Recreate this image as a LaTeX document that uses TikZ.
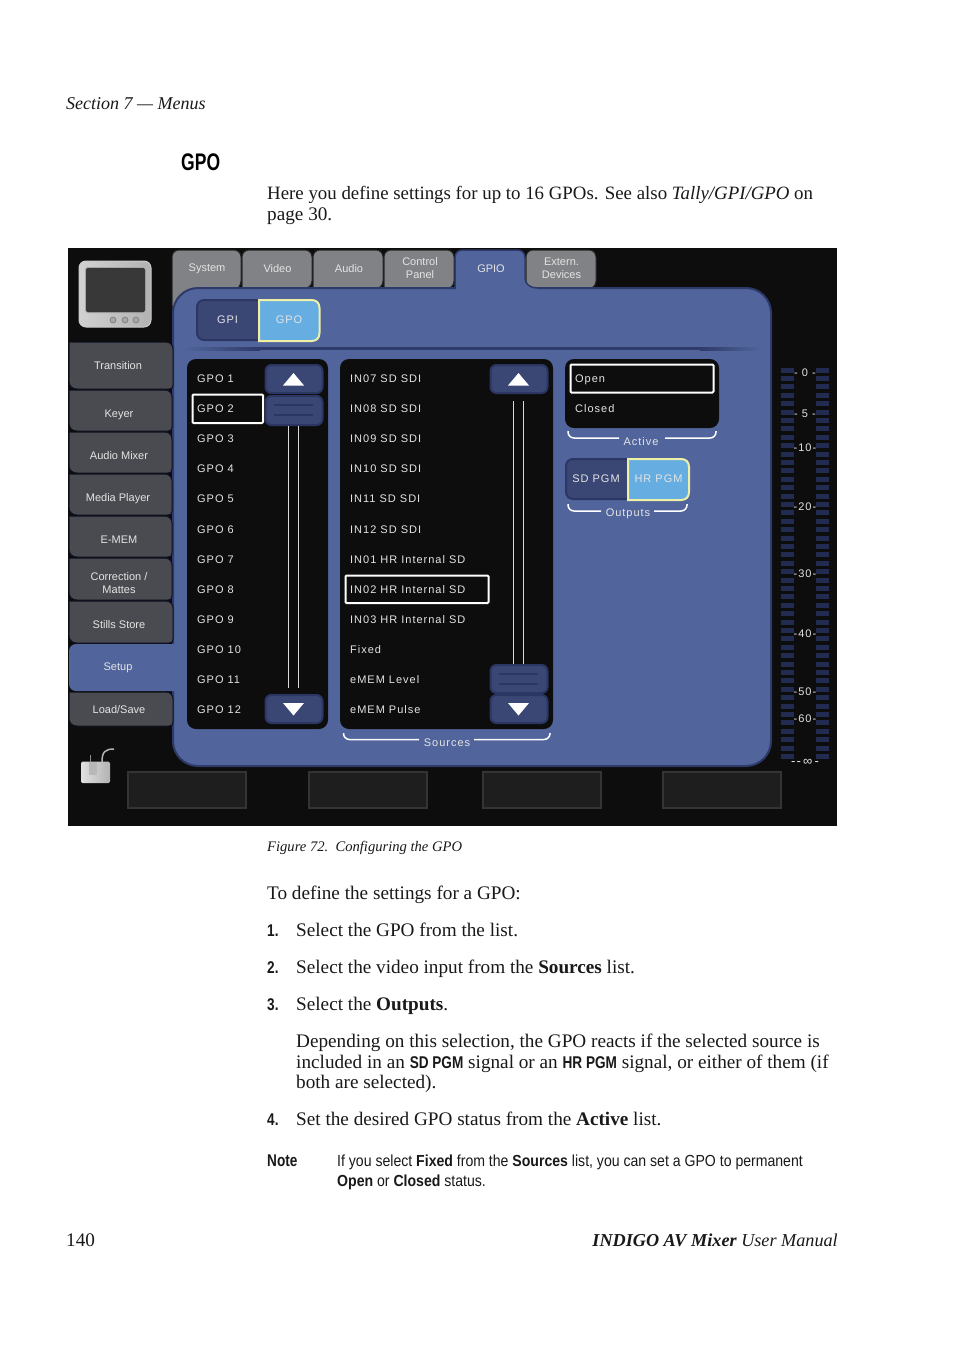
\documentclass[tikz,border=0pt]{standalone}
\usepackage{fontspec}
\setmainfont{Liberation Serif}
\setsansfont{Liberation Sans}
\newfontfamily\uilist{Liberation Sans}[LetterSpace=9]
\newfontfamily\uitab{Liberation Sans}
\newfontfamily\headf{Liberation Sans}[FakeStretch=0.88]
\newfontfamily\condf{Liberation Sans}[FakeStretch=0.8]
\newfontfamily\gpof{Liberation Sans}[FakeStretch=0.73]
\usetikzlibrary{calc}
\definecolor{panelblue}{HTML}{51659C}
\definecolor{paneledge}{HTML}{2E3A69}
\definecolor{btnblue}{HTML}{3A4775}
\definecolor{btnedge}{HTML}{2B3662}
\definecolor{lightblue}{HTML}{66ADE1}
\definecolor{hiliteedge}{HTML}{EFEFA6}
\definecolor{uiblack}{HTML}{0D0D0D}
\definecolor{tabgrey}{HTML}{808285}
\definecolor{sidegrey}{HTML}{4A4B50}
\definecolor{uitext}{HTML}{E4E4E4}
\definecolor{seg}{HTML}{222C52}
\definecolor{softkey}{HTML}{1E1E1E}
\definecolor{softedge}{HTML}{343434}
\tikzset{
  body/.style={anchor=base west,inner sep=0pt,font=\fontsize{19.2}{21}\selectfont,text=black!90},
  lbl/.style={anchor=base west,inner sep=0pt,font=\fontsize{17}{19}\condf\bfseries,text=black!90},
  note/.style={anchor=base west,inner sep=0pt,font=\fontsize{16}{18}\headf,text=black!90},
  rowtext/.style={anchor=base west,inner sep=0pt,font=\fontsize{11}{12}\uilist,text=uitext},
  tabtext/.style={align=center,inner sep=0pt,font=\fontsize{11}{13}\uitab,text=uitext},
  swtext/.style={inner sep=0pt,font=\fontsize{11}{12}\uilist,text=uitext},
  capt/.style={inner sep=0pt,font=\fontsize{11}{12}\uilist,text=uitext},
  metertext/.style={inner sep=0pt,font=\fontsize{11}{12}\uilist,text=uitext},
  tabgreyst/.style={fill=tabgrey,draw=black!85,line width=1pt,rounded corners=7pt},
  sidetabst/.style={fill=sidegrey,draw=black!70!paneledge,line width=1pt},
  listbox/.style={fill=uiblack,rounded corners=9pt},
  ubtn/.style={fill=btnblue,draw=btnedge,line width=2pt,rounded corners=6pt},
  selbox/.style={draw=white,fill=uiblack,line width=2pt,rounded corners=1pt},
  brk/.style={draw=white,line width=1.5pt,rounded corners=6pt},
  softk/.style={fill=softkey,draw=softedge,line width=2pt},
  trk/.style={draw=white!85!black,line width=1pt},
  grip/.style={draw=btnedge,line width=1.5pt},
  swoff/.style={fill=btnblue,draw=btnedge,line width=2pt,rounded corners=7pt},
  swon/.style={fill=lightblue,draw=hiliteedge,line width=2pt}
}
% side tab: #2 top, #3 bottom, #4 right edge
\newcommand{\sidetabshape}[4][sidetabst]{%
  \path[#1] (69,#2) -- ({#4-7},#2) .. controls ({#4-3},#2) and (#4,{#2+3}) .. (#4,{#2+7})
   -- (#4,{#3-4}) .. controls (#4,{#3-1}) and ({#4-1},#3) .. ({#4-4},#3)
   -- (77,#3) .. controls (72,#3) and (69,{#3-3}) .. (69,{#3-8}) -- cycle;}
% selected switch half: #1 left, #2 right, #3 top, #4 bottom
\newcommand{\swonshape}[4]{%
  \path[swon] (#1,#3) -- ({#2-8},#3) .. controls ({#2-3},#3) and (#2,{#3+3}) .. (#2,{#3+8})
   -- (#2,{#4-8}) .. controls (#2,{#4-3}) and ({#2-3},#4) .. ({#2-8},#4) -- (#1,#4) -- cycle;}
\begin{document}
\begin{tikzpicture}[x=1pt,y=-1pt]
\useasboundingbox (0,0) rectangle (954,1350);
\fill[white] (0,0) rectangle (954,1350);
% page text
\node[body,font=\fontsize{18}{21}\selectfont\itshape] (sec) at (66,109) {Section 7 — Menus};
\node[anchor=base west,inner sep=0pt,font=\fontsize{24}{26}\gpof\bfseries] (head) at (181,170) {GPO};
\node[body,font=\fontsize{18.85}{21}\selectfont] (p1) at (267,199) {Here you define settings for up to 16 GPOs. See also \textit{Tally/GPI/GPO} on};
\node[body] (p1b) at (267,220) {page 30.};
\node[body,font=\fontsize{14.6}{17}\selectfont\itshape] (fig) at (267,851) {Figure 72.\ \ Configuring the GPO};
\node[body] (p2) at (267,899) {To define the settings for a GPO:};
\node[lbl] (n1) at (267,936) {1.};
\node[body] (s1) at (296,936) {Select the GPO from the list.};
\node[lbl] (n2) at (267,973) {2.};
\node[body] (s2) at (296,973) {Select the video input from the \textbf{Sources} list.};
\node[lbl] (n3) at (267,1010) {3.};
\node[body] (s3) at (296,1010) {Select the \textbf{Outputs}.};
\node[body] (d1) at (296,1047) {Depending on this selection, the GPO reacts if the selected source is};
\node[body] (d2) at (296,1068) {included in an {\condf\bfseries\fontsize{17}{19}\selectfont SD PGM} signal or an {\condf\bfseries\fontsize{17}{19}\selectfont HR PGM} signal, or either of them (if};
\node[body] (d3) at (296,1088) {both are selected).};
\node[lbl] (n4) at (267,1125) {4.};
\node[body] (s4) at (296,1125) {Set the desired GPO status from the \textbf{Active} list.};
\node[lbl] (nt) at (267,1166) {Note};
\node[note] (nt1) at (337,1166) {If you select \textbf{Fixed} from the \textbf{Sources} list, you can set a GPO to permanent};
\node[note] (nt2) at (337,1186) {\textbf{Open} or \textbf{Closed} status.};
\node[body] (pg) at (66,1246) {140};
\node[body,anchor=base east,font=\fontsize{18.2}{21}\selectfont] (ttl) at (838,1246) {\textit{\textbf{INDIGO AV Mixer} User Manual}};
% screenshot background
\fill[uiblack] (68,248) rectangle (837,826);
% monitor icon
\fill[left color=black!18,right color=black!30,draw=white!80!black,rounded corners=7pt,line width=1pt] (79,261) rectangle (151,327);
\fill[black!35,rounded corners=3pt] (85,267) rectangle (146,313);
\fill[black!78,rounded corners=2pt] (86,268) rectangle (145,312);
\foreach \cx in {113,125,136} \filldraw[fill=black!35,draw=black!50,line width=.7pt] (\cx,320) circle (3pt);
% top tabs
\path[tabgreyst] (172,312) -- (172,250) -- (241,250) -- (241,288) -- cycle;
\path[tabgreyst] (242,296) -- (242,250) -- (312,250) -- (312,288) -- (250,288) -- cycle;
\path[tabgreyst] (313,296) -- (313,250) -- (383,250) -- (383,288) -- cycle;
\path[tabgreyst] (384,296) -- (384,250) -- (454,250) -- (454,288) -- cycle;
\path[tabgreyst] (526,296) -- (526,250) -- (596,250) -- (596,288) -- cycle;
% main panel
\path[fill=panelblue,draw=paneledge,line width=2pt,rounded corners=25pt] (173,400) -- (173,288) -- (771,288) -- (771,766) -- (173,766) -- cycle;
% GPIO tab, open into the panel
\fill[panelblue] (455,292) -- (455,258) .. controls (455,253) and (458,250) .. (463,250) -- (517,250) .. controls (522,250) and (525,253) .. (525,258) -- (525,278) .. controls (525,284) and (530,288) .. (537,288) -- (537,292) -- cycle;
\draw[paneledge,line width=1.5pt] (455,289) -- (455,258) .. controls (455,253) and (458,250) .. (463,250) -- (517,250) .. controls (522,250) and (525,253) .. (525,258) -- (525,278) .. controls (525,284) and (530,288) .. (537,288);
% side tabs
\sidetabshape{342}{389}{173}
\sidetabshape{390}{431}{172}
\sidetabshape{432}{473}{172}
\sidetabshape{474}{515}{172}
\sidetabshape{516}{557}{172}
\sidetabshape{558}{600}{172}
\sidetabshape{601}{643}{173}
\path[fill=panelblue,rounded corners=7pt] (69,644) -- (180,644) -- (180,691) -- (69,691) -- cycle;
\sidetabshape{692}{726}{173}
% labels of tabs
\node[tabtext] (tSys) at (207,269) {System};
\node[tabtext] (tVid) at (277.5,268.5) {Video};
\node[tabtext] (tAud) at (349,268.5) {Audio};
\node[tabtext] (tCP) at (420,268.5) {Control\\Panel};
\node[tabtext] (tGPIO) at (491,268.5) {GPIO};
\node[tabtext] (tExt) at (561.5,268.5) {Extern.\\Devices};
\node[tabtext] (sT) at (118,366) {Transition};
\node[tabtext] (sK) at (119,415) {Keyer};
\node[tabtext] (sA) at (119,456) {Audio Mixer};
\node[tabtext] (sM) at (118,499) {Media Player};
\node[tabtext] (sE) at (119,540) {E-MEM};
\node[tabtext] (sC) at (119,583) {Correction /\\Mattes};
\node[tabtext] (sS) at (119,625) {Stills Store};
\node[tabtext] (sSet) at (118,668) {Setup};
\node[tabtext] (sL) at (119,710) {Load/Save};
% GPI/GPO switch
\path[swoff] (197,300) -- (264,300) -- (264,340) -- (197,340) -- cycle;
\swonshape{259}{319.5}{300}{341}
\node[swtext] (gpi) at (227.5,320) {GPI};
\node[swtext] (gpo) at (289,320) {GPO};
% separator
\shade[left color=panelblue,right color=paneledge] (183,347) rectangle (260,350);
\fill[paneledge] (260,347) rectangle (700,350);
\shade[left color=paneledge,right color=panelblue] (700,347) rectangle (762,350);
% GPO list
\path[listbox] (187,359) rectangle (328,729);
\path[selbox] (192.5,394.5) rectangle (263,423);
\foreach \t [count=\i from 0] in {GPO 1,GPO 2,GPO 3,GPO 4,GPO 5,GPO 6,GPO 7,GPO 8,GPO 9,GPO 10,GPO 11,GPO 12}
  \node[rowtext] (gpo\i) at (197,{382.5+30.1*\i}) {\t};
\path[ubtn] (265.5,365) rectangle (322.5,393);
\path[ubtn] (265.5,396) rectangle (322.5,425);
\path[ubtn] (265.5,695) rectangle (322.5,723);
\draw[grip] (274,405) -- (313,405);
\draw[grip] (274,415) -- (313,415);
\fill[white] (283,385.5) -- (304,385.5) -- (293.5,373) -- cycle;
\fill[white] (283,703) -- (304,703) -- (293.5,715.5) -- cycle;
\draw[trk] (288.5,426) -- (288.5,688);
\draw[trk] (298.5,426) -- (298.5,688);
% source list
\path[listbox] (340,359) rectangle (553,729);
\path[selbox] (345.5,575.5) rectangle (488.5,603);
\foreach \t [count=\i from 0] in {IN07 SD SDI,IN08 SD SDI,IN09 SD SDI,IN10 SD SDI,IN11 SD SDI,IN12 SD SDI,IN01 HR Internal SD,IN02 HR Internal SD,IN03 HR Internal SD,Fixed,eMEM Level,eMEM Pulse}
  \node[rowtext] (src\i) at (350,{382.5+30.1*\i}) {\t};
\path[ubtn] (490.5,365) rectangle (547.5,393);
\path[ubtn] (490.5,665) rectangle (547.5,693);
\path[ubtn] (490.5,695) rectangle (547.5,723);
\draw[grip] (499,674) -- (538,674);
\draw[grip] (499,684) -- (538,684);
\fill[white] (508,385.5) -- (529,385.5) -- (518.5,373) -- cycle;
\fill[white] (508,703) -- (529,703) -- (518.5,715.5) -- cycle;
\draw[trk] (513.5,401) -- (513.5,664);
\draw[trk] (523.5,401) -- (523.5,664);
% active list
\path[listbox] (565,359) rectangle (719,428);
\path[selbox] (570.5,364.5) rectangle (713.5,392.5);
\node[rowtext] (open) at (575,382.5) {Open};
\node[rowtext] (closed) at (575,412.5) {Closed};
% brackets
\node[capt] (lActive) at (641,441.5) {Active};
\draw[brk] (568,431) -- (568,438) -- (619,438);
\draw[brk] (665,438) -- (716,438) -- (716,431);
\path[swoff] (566,459) -- (633,459) -- (633,499) -- (566,499) -- cycle;
\swonshape{628}{689}{459}{500}
\node[swtext] (sd) at (596,479) {SD PGM};
\node[swtext] (hr) at (658.5,479) {HR PGM};
\node[capt] (lOut) at (628,514) {Outputs};
\draw[brk] (568,504) -- (568,511) -- (601,511);
\draw[brk] (654,511) -- (687,511) -- (687,504);
\node[capt] (lSrc) at (447,743) {Sources};
\draw[brk] (343.5,733) -- (343.5,739.5) -- (419,739.5);
\draw[brk] (474,739.5) -- (550,739.5) -- (550,733);
% meters
\foreach \i in {0,...,46} {
  \fill[seg] (781,{367.5+8.4*\i}) rectangle (794,{372.5+8.4*\i});
  \fill[seg] (816,{367.5+8.4*\i}) rectangle (829,{372.5+8.4*\i});
}
\node[metertext] (m0) at (805,373) {- 0 -};
\node[metertext] (m5) at (805,413.5) {- 5 -};
\node[metertext] (m10) at (805,447.5) {-10-};
\node[metertext] (m20) at (805,506.5) {-20-};
\node[metertext] (m30) at (805,573.5) {-30-};
\node[metertext] (m40) at (805,634) {-40-};
\node[metertext] (m50) at (805,692) {-50-};
\node[metertext] (m60) at (805,718.5) {-60-};
\node[metertext,font=\fontsize{13}{14}\uilist] (minf) at (805,762) {--\,∞\,-};
% bottom soft keys
\path[softk] (128,772) rectangle (246,808);
\path[softk] (309,772) rectangle (427,808);
\path[softk] (483,772) rectangle (601,808);
\path[softk] (663,772) rectangle (781,808);
% bucket icon
\shade[left color=black!12,right color=black!30,rounded corners=1.5pt] (81,761.5) rectangle (110,783);
\fill[black!28] (89,761.5) rectangle (97,775);
\draw[black!45,line width=1pt] (90,755) -- (90,761.5);
\draw[black!30,line width=1.5pt] (102,762) .. controls (102,752) and (105,749) .. (114,749);
\end{tikzpicture}
\end{document}
